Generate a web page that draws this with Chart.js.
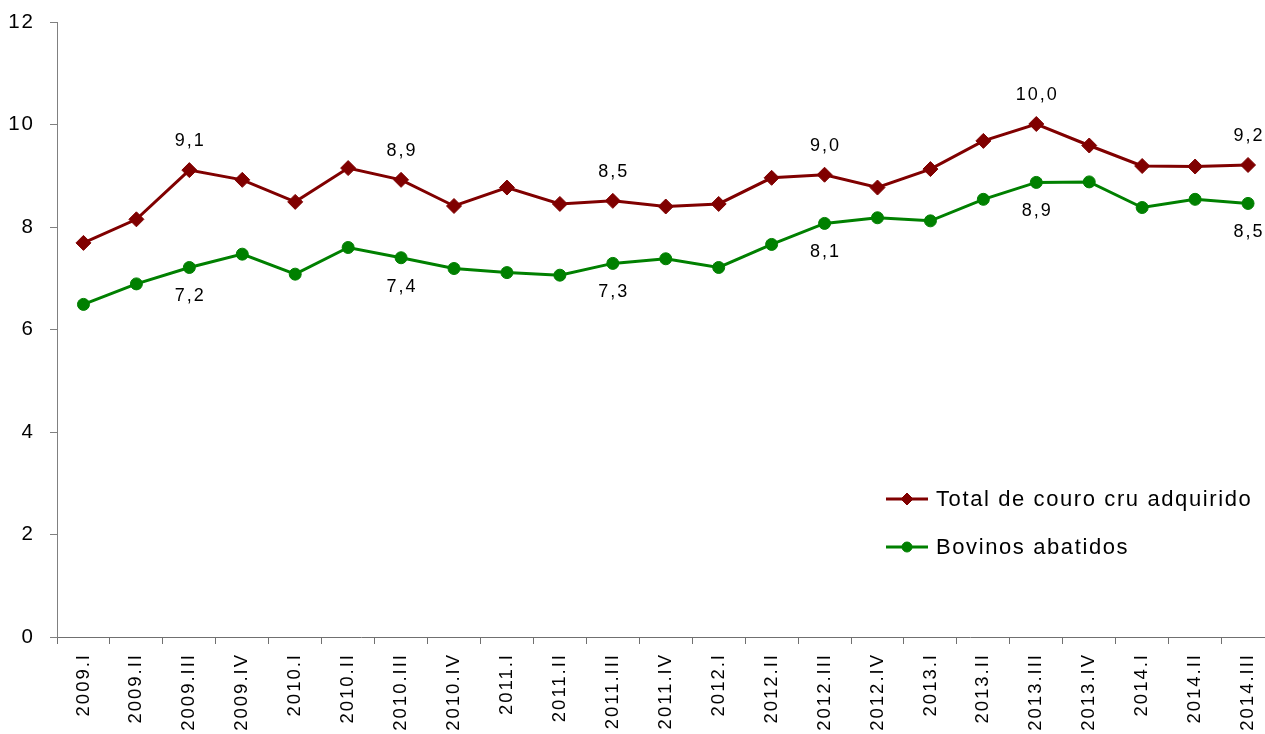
<!DOCTYPE html>
<html lang="pt">
<head>
  <meta charset="UTF-8" />
  <title>Couro cru adquirido e bovinos abatidos</title>
  <script src="https://cdn.jsdelivr.net/npm/chart.js"></script>
  <style>
    html, body { margin: 0; padding: 0; background: #fff; overflow: hidden; }
    #wrap { width: 1265px; height: 734px; overflow: hidden; }
    canvas { display: block; }
  </style>
</head>
<body>
  <div id="wrap"><canvas id="chartCanvas" width="1283" height="734"></canvas></div>

  <script>
    // trimestres
    const quarters = [
      '2009.I', '2009.II', '2009.III', '2009.IV',
      '2010.I', '2010.II', '2010.III', '2010.IV',
      '2011.I', '2011.II', '2011.III', '2011.IV',
      '2012.I', '2012.II', '2012.III', '2012.IV',
      '2013.I', '2013.II', '2013.III', '2013.IV',
      '2014.I', '2014.II', '2014.III'
    ];

    // milhões de peças / cabeças
    const couroTotal = [
      7.69, 8.15, 9.11, 8.92,
      8.49, 9.15, 8.92, 8.41,
      8.77, 8.45, 8.51, 8.40,
      8.45, 8.96, 9.02, 8.77,
      9.13, 9.68, 10.01, 9.59,
      9.19, 9.18, 9.21
    ];
    const bovinosAbatidos = [
      6.49, 6.89, 7.21, 7.47,
      7.08, 7.60, 7.40, 7.19,
      7.11, 7.06, 7.29, 7.38,
      7.21, 7.66, 8.07, 8.18,
      8.12, 8.54, 8.87, 8.88,
      8.38, 8.54, 8.46
    ];

    const yTicks = [0, 2, 4, 6, 8, 10, 12];
    // pontos que recebem rótulo de valor
    const labelIndexes = [2, 6, 10, 14, 18, 22];

    const FONT_FAMILY = '"Liberation Sans", Arial, sans-serif';

    const fmt = v => v.toFixed(1).replace('.', ',');

    // espaçamento entre letras (o canvas perde o estado a cada resize)
    const letterSpacing = {
      id: 'letterSpacing',
      beforeLayout(chart) { chart.ctx.letterSpacing = '2px'; },
      beforeDraw(chart) { chart.ctx.letterSpacing = '2px'; }
    };

    const valueLabels = {
      id: 'valueLabels',
      afterDatasetsDraw(chart) {
        const ctx = chart.ctx;
        ctx.save();
        ctx.font = '18px ' + FONT_FAMILY;
        ctx.letterSpacing = '2px';
        ctx.fillStyle = '#000';
        ctx.textAlign = 'center';
        ctx.textBaseline = 'middle';
        chart.data.datasets.forEach((ds, di) => {
          const meta = chart.getDatasetMeta(di);
          const dy = ds.labelSide === 'above' ? -29 : 29;
          labelIndexes.forEach(i => {
            const pt = meta.data[i];
            ctx.fillText(fmt(ds.data[i]), pt.x + 1, pt.y + dy);
          });
        });
        ctx.restore();
      }
    };

    // legenda dentro da área do gráfico, canto inferior direito
    const innerLegend = {
      id: 'innerLegend',
      afterDraw(chart) {
        const ctx = chart.ctx;
        const area = chart.chartArea;
        const x0 = area.left + 829;
        const rows = [area.bottom - 138, area.bottom - 90];
        ctx.save();
        ctx.font = '22px ' + FONT_FAMILY;
        ctx.letterSpacing = '1.6px';
        ctx.textBaseline = 'middle';
        ctx.textAlign = 'left';
        chart.data.datasets.forEach((ds, di) => {
          const y = rows[di];
          ctx.strokeStyle = ds.borderColor;
          ctx.fillStyle = ds.backgroundColor;
          ctx.lineWidth = 3;
          ctx.beginPath();
          ctx.moveTo(x0, y);
          ctx.lineTo(x0 + 42, y);
          ctx.stroke();
          ctx.lineWidth = 1;
          Chart.helpers.drawPoint(ctx, {
            pointStyle: ds.pointStyle,
            radius: ds.legendRadius,
            rotation: 0,
            borderWidth: 1
          }, x0 + 21, y);
          ctx.fillStyle = '#000';
          ctx.fillText(ds.label, x0 + 50, y + 1);
        });
        ctx.restore();
      }
    };

    const config = {
      type: 'line',
      data: {
        labels: quarters,
        datasets: [
          {
            label: 'Total de couro cru adquirido',
            data: couroTotal,
            borderColor: '#800000',
            backgroundColor: '#800000',
            borderWidth: 3,
            pointStyle: 'rectRot',
            pointRadius: 7.5,
            pointBorderWidth: 1,
            tension: 0,
            labelSide: 'above',
            legendRadius: 6
          },
          {
            label: 'Bovinos abatidos',
            data: bovinosAbatidos,
            borderColor: '#008000',
            backgroundColor: '#008000',
            borderWidth: 3,
            pointStyle: 'circle',
            pointRadius: 6,
            pointBorderWidth: 1,
            tension: 0,
            labelSide: 'below',
            legendRadius: 5
          }
        ]
      },
      options: {
        responsive: false,
        animation: false,
        layout: { padding: { top: 22, right: 0, bottom: 0, left: 0 } },
        plugins: {
          legend: { display: false },
          tooltip: { enabled: false }
        },
        scales: {
          x: {
            type: 'category',
            offset: true,
            grid: {
              display: true,
              drawOnChartArea: false,
              drawTicks: true,
              tickLength: 7,
              offset: true,
              color: '#707070'
            },
            border: { color: '#707070', width: 1 },
            ticks: {
              autoSkip: false,
              minRotation: 90,
              maxRotation: 90,
              padding: 9,
              color: '#000',
              font: { family: FONT_FAMILY, size: 18.5 }
            },
            afterFit: s => { s.height = 97; }
          },
          y: {
            min: yTicks[0],
            max: yTicks[yTicks.length - 1],
            grid: {
              display: true,
              drawOnChartArea: false,
              drawTicks: true,
              tickLength: 7,
              color: '#808080'
            },
            border: { color: '#808080', width: 1 },
            ticks: {
              stepSize: 2,
              padding: 15,
              color: '#000',
              font: { family: FONT_FAMILY, size: 20.5 }
            },
            afterBuildTicks: s => { s.ticks = yTicks.map(v => ({ value: v })); },
            afterFit: s => { s.width = 57; s.paddingTop = 0; s.paddingBottom = 0; }
          }
        }
      },
      plugins: [letterSpacing, valueLabels, innerLegend]
    };

    const chart = new Chart(document.getElementById('chartCanvas'), config);
  </script>
</body>
</html>
